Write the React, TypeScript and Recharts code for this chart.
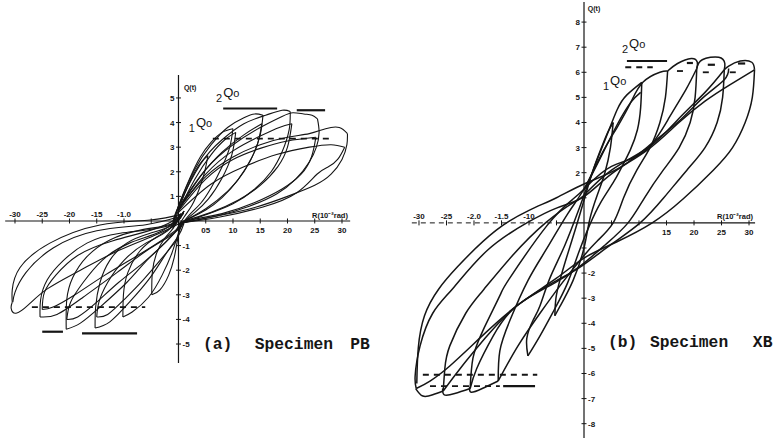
import React from "react";
import { ScatterChart, Scatter, XAxis, YAxis, ReferenceLine } from "recharts";

type Pt = [number, number];
type Seg = [number, number, number]; // x1, x2, y
type Label = { x: number; y: number; t: string };

const INK = "#151515";
const SANS = "'Liberation Sans', Arial, sans-serif";
const MONO = "'Liberation Mono', 'DejaVu Sans Mono', monospace";

// ---------- (a) Specimen PB : R in 10^-2 rad (tick units), Q in t ----------
const pbXTicks = [-30, -25, -20, -15, -10, -5, 5, 10, 15, 20, 25, 30];
const pbXTickLabels = ["-30", "-25", "-20", "-15", "-1.0", "", "05", "10", "15", "20", "25", "30"];
const pbYTicks = [5, 4, 3, 2, 1, -1, -2, -3, -4, -5];
const pbYTickLabels = ["5", "4", "3", "2", "1", "-1", "-2", "-3", "-4", "-5"];

const pbPlus05: Pt[][] = [
  [[-1, -0.3], [0, 0.45], [1.5, 1.3], [3, 2.0], [4.4, 2.45], [5.4, 2.65]],
  [[5.4, 2.65], [4.8, 2.0], [3.8, 1.3], [2.5, 0.65], [1, 0.15], [-0.5, -0.4]],
];
const pbPlus10: Pt[][] = [
  [[-1, -0.2], [0, 0.6], [2, 1.7], [4, 2.6], [6, 3.2], [8, 3.6], [10, 3.75]],
  [[10, 3.75], [9.4, 3.0], [8, 2.2], [6, 1.35], [4, 0.7], [2, 0.25], [0, -0.3]],
  [[0, 0.4], [3, 1.7], [6, 2.7], [8.5, 3.3], [10.5, 3.6]],
  [[10.5, 3.6], [9.8, 2.7], [8, 1.75], [5.5, 0.9], [3, 0.35], [0.5, -0.1]],
];
const pbPlus15: Pt[][] = [
  [[-1, -0.1], [0, 0.6], [3, 2.1], [6, 3.1], [9, 3.8], [12, 4.2], [14, 4.35], [15.5, 4.3]],
  [[15.5, 4.3], [15, 3.5], [13.5, 2.6], [11, 1.7], [8, 0.95], [5, 0.45], [2, 0.1], [0, -0.2]],
  [[0, 0.45], [4, 1.8], [8, 2.8], [12, 3.5], [15.3, 3.95]],
  [[15.3, 3.95], [14.3, 3.0], [12, 2.0], [9, 1.2], [5, 0.5], [1, 0]],
];
const pbPlus20: Pt[][] = [
  [[-1, 0], [0, 0.6], [4, 2.3], [8, 3.3], [12, 3.95], [16, 4.3], [19, 4.5], [20.5, 4.45]],
  [[20.5, 4.45], [20.3, 3.7], [19, 2.8], [17, 2.0], [14, 1.3], [10, 0.7], [5, 0.25], [0, -0.15]],
  [[0, 0.45], [5, 1.9], [10, 2.85], [15, 3.45], [18.5, 3.8], [20.8, 3.95]],
  [[20.8, 3.95], [20, 3.0], [18.2, 2.2], [15, 1.45], [11, 0.85], [6, 0.35], [1, 0]],
];
const pbPlus25: Pt[][] = [
  [[0, 0.55], [5, 2.1], [10, 3.1], [15, 3.8], [19, 4.25], [21, 4.4], [23, 4.35], [24.5, 4.3], [25.5, 4.15]],
  [[25.5, 4.15], [25.8, 3.6], [25.3, 3.0], [24, 2.4], [21.5, 1.7], [18, 1.1], [13, 0.6], [7, 0.2], [0, -0.1]],
  [[0, 0.4], [5, 1.7], [10, 2.5], [15, 2.95], [20, 3.25], [25.2, 3.4]],
  [[25.2, 3.4], [24.4, 2.6], [22.5, 1.9], [19, 1.3], [14, 0.75], [8, 0.3], [1, 0]],
];
const pbPlus30: Pt[][] = [
  [[0, 0.5], [5, 1.8], [10, 2.6], [15, 3.1], [20, 3.4], [24, 3.55], [27, 3.75], [29.5, 3.8], [31, 3.55]],
  [[31, 3.55], [30.9, 3.1], [30, 2.5], [28, 1.9], [25, 1.45], [20, 1.0], [14, 0.55], [7, 0.2], [0, -0.1]],
  [[0, 0.35], [6, 1.5], [12, 2.2], [18, 2.7], [24, 3.0], [28, 3.1], [30.5, 3.0]],
  [[30.5, 3.0], [29.2, 2.5], [27.5, 2.2], [25.4, 1.9], [21.7, 1.15], [15.5, 0.57], [7.6, 0.16], [0, -0.1]],
];
const pbMinus05: Pt[][] = [
  [[1, 0.4], [-1, -0.3], [-2.5, -0.7], [-4, -1.3], [-4.8, -2.1], [-4.9, -3.0]],
  [[-4.9, -3.0], [-3.4, -2.8], [-1.8, -2.2], [-0.8, -1.5], [-0.2, -0.8], [0.5, 0]],
];
const pbMinus10: Pt[][] = [
  [[1, 0.4], [-1, -0.2], [-4, -0.65], [-7, -1.2], [-9.3, -2.1], [-10.1, -3.0], [-10.2, -3.9]],
  [[-10.2, -3.9], [-8.5, -3.7], [-5.5, -3.1], [-3, -2.2], [-1.2, -1.3], [0, -0.5], [1, 0]],
];
const pbMinus15: Pt[][] = [
  [[1, 0.4], [-1, -0.15], [-5.2, -0.5], [-9.5, -0.9], [-12.6, -1.6], [-14.4, -2.5], [-15.2, -3.5], [-15.3, -4.35]],
  [[-15.3, -4.35], [-12.6, -4.1], [-9, -3.3], [-5.2, -2.3], [-2.2, -1.3], [0, -0.6], [1, -0.1]],
  [[0.5, 0.3], [-2, -0.4], [-6, -0.9], [-10, -1.6], [-13, -2.5], [-14.6, -3.3], [-15, -3.9]],
  [[-15, -3.9], [-13, -3.8], [-10, -3.2], [-6.5, -2.4], [-3, -1.5], [0, -0.7]],
];
const pbMinus20: Pt[][] = [
  [[1, 0.4], [-1, -0.1], [-7, -0.37], [-12.6, -0.77], [-16.8, -1.45], [-19.4, -2.3], [-20.5, -3.2], [-20.6, -4.4]],
  [[-20.6, -4.4], [-18, -4.15], [-14.4, -3.5], [-9.5, -2.5], [-5.8, -1.6], [-2.1, -0.8], [1, 0]],
  [[0.5, 0.3], [-3, -0.4], [-9, -0.9], [-14, -1.6], [-17.5, -2.5], [-19.8, -3.3], [-20.5, -4.0]],
  [[-20.5, -4.0], [-18.5, -3.9], [-15, -3.3], [-11, -2.5], [-6.5, -1.7], [-2.5, -0.9], [0.5, -0.2]],
];
const pbMinus25: Pt[][] = [
  [[1, 0.4], [-2, -0.2], [-10.7, -0.5], [-16.8, -0.9], [-21.1, -1.6], [-24.1, -2.4], [-25.3, -3.2], [-25.4, -3.9]],
  [[-25.4, -3.9], [-22.3, -3.8], [-17.5, -3.1], [-11.3, -2.1], [-5.8, -1.2], [-1.5, -0.6], [1, -0.1]],
  [[0.5, 0.2], [-4, -0.3], [-12, -0.8], [-18.5, -1.4], [-22.5, -2.2], [-24.6, -2.9], [-25, -3.6]],
  [[-25, -3.6], [-23, -3.5], [-19, -3.0], [-13.5, -2.2], [-7.5, -1.4], [-2.5, -0.7], [0.5, -0.2]],
];
const pbMinus30: Pt[][] = [
  [[1, 0.3], [-5.2, 0.04], [-14.4, -0.16], [-23.6, -0.9], [-29.1, -1.9], [-30.5, -2.8], [-30.5, -3.3]],
  [[-30.5, -3.3], [-30.7, -3.55], [-29.8, -3.75], [-27.5, -3.4], [-24, -2.75], [-18, -2.0], [-11, -1.2], [-4, -0.55], [1, 0]],
  [[0.5, 0.2], [-6, -0.15], [-15, -0.4], [-23, -1.1], [-28, -2.1], [-30, -2.9], [-30.4, -3.3]],
];

const pbSolidMarks: Seg[] = [[8.2, 18.1, 4.57], [21.7, 26.9, 4.5], [-25, -21.2, -4.5], [-17.7, -7.6, -4.57]];
const pbDashMarks: Seg[] = [[6.3, 28.3, 3.35], [-26.9, -6.1, -3.5]];
const pbQoLabels: Label[] = [{ x: 6.9, y: 4.84, t: "2" }, { x: 1.9, y: 3.62, t: "1" }];
const pbTitle: Label[] = [{ x: 4.5, y: -5.2, t: "(a)" }, { x: 14.0, y: -5.2, t: "Specimen" }, { x: 31.5, y: -5.2, t: "PB" }];

// ---------- (b) Specimen XB ----------
const xbXTicks = [-30, -25, -20, -15, -10, -5, 5, 10, 15, 20, 25, 30];
const xbXTickLabels = ["-30", "-25", "-2.0", "-1.5", "-10", "", "", "", "15", "20", "25", "30"];
const xbYTicks = [8, 7, 6, 5, 4, 3, 2, 1, -1, -2, -3, -4, -5, -6, -7, -8];
const xbYTickLabels = ["8", "7", "6", "5", "4", "3", "2", "", "", "-2", "-3", "-4", "-5", "-6", "-7", "-8"];

const xbCycle05: Pt[][] = [
  [[-5.3, -3.7], [-5.1, -3.0], [-4.4, -2.3], [-3.2, -1.4], [-1.5, -0.2], [0, 0.9], [1.5, 2.0], [3, 2.9], [4.3, 3.6], [5.3, 4.0]],
  [[5.3, 4.0], [4.8, 3.0], [3.8, 2.0], [2.4, 1.1], [1, 0.1], [0, -1.0], [-2, -2.3], [-4.3, -3.3], [-5.3, -3.7]],
];
const xbCycle10: Pt[][] = [
  [[-10.2, -5.3], [-10.4, -4.6], [-9.3, -3.9], [-8, -3.3], [-6.2, -2.2], [-3.5, -0.9], [-1, 0.5], [0, 1.1], [2, 2.3], [4, 3.4], [6, 4.5], [7.8, 5.1], [10.5, 5.6]],
  [[10.5, 5.6], [10.3, 4.6], [9.7, 3.7], [8.4, 2.9], [6.8, 2.2], [5.3, 1.6], [3, 0.8], [1, -0.1], [-1, -1.2], [-3, -2.4], [-5.5, -3.5], [-8, -4.5], [-10.2, -5.3]],
  [[0, 1.3], [3, 2.6], [6, 3.9], [8.5, 4.8], [10.3, 5.2]],
];
const xbCycle15: Pt[][] = [
  [[-15.6, -6.3], [-15.3, -5.1], [-13.5, -3.9], [-10.2, -2.3], [-6.7, -1.0], [-3, 0.35], [0, 1.35], [3, 2.65], [6, 3.8], [8.5, 4.8], [10.7, 5.6], [13.8, 6.0], [15.2, 6.05]],
  [[15.2, 6.05], [14.8, 5.0], [13.8, 4.0], [12, 3.0], [9.6, 2.1], [7.2, 1.0], [5.3, 0], [2.5, -0.7], [0, -1.3], [-4, -2.4], [-8, -3.6], [-12, -4.9], [-15.6, -6.3]],
];
const xbCycle20: Pt[][] = [
  [[-20.7, -6.6], [-20.2, -5.4], [-18.4, -4.3], [-15.3, -2.9], [-13.5, -2.2], [-6.7, -0.1], [-2, 0.95], [0.5, 1.45], [5, 2.25], [11, 2.85], [15.5, 4.2], [18.5, 5.3], [20.5, 6.15]],
  [[20.5, 6.15], [20.2, 5.0], [19.3, 4.0], [17.3, 3.0], [14.4, 2.1], [11, 1.0], [8, 0], [4, -0.85], [0, -1.6], [-5, -2.35], [-12.2, -3.3], [-16.5, -4.5], [-19.5, -5.8], [-20.7, -6.6]],
  [[15.2, 6.05], [17, 6.35], [19.5, 6.55], [20.6, 6.4], [20.5, 6.15]],
  [[-15.6, -6.3], [-18.5, -6.6], [-20.5, -6.75], [-20.8, -6.55]],
];
const xbCycle25: Pt[][] = [
  [[-25.6, -6.7], [-25.3, -5.8], [-24.4, -4.9], [-21.5, -3.6], [-18.4, -2.7], [-13, -1.3], [-7, 0], [-2, 0.8], [0, 1.1], [5, 2.1], [12, 3.05], [17, 4.1], [22, 5.2], [25.5, 6.1]],
  [[25.5, 6.1], [25.2, 5.0], [24.2, 4.0], [22, 3.0], [18.7, 2.1], [14.5, 1.0], [10.2, 0], [5, -0.85], [-0.3, -1.7], [-5, -2.3], [-12.2, -3.3], [-18, -4.6], [-22.5, -5.8], [-25.6, -6.7]],
  [[20.5, 6.15], [21.5, 6.5], [24.5, 6.6], [25.6, 6.35], [25.5, 6.1]],
  [[-20.7, -6.6], [-23.5, -6.8], [-25.4, -6.85], [-25.7, -6.6]],
];
const xbCycle30: Pt[][] = [
  [[-30.5, -6.6], [-30.7, -6.1], [-29.8, -4.9], [-27.5, -3.6], [-23.8, -2.6], [-17.6, -1.1], [-10.4, 0], [-4.9, 0.6], [0, 1.05], [5, 1.95], [11.5, 2.9], [17, 3.95], [22, 4.85], [26.5, 5.5], [31, 6.1]],
  [[31, 6.1], [30.6, 5.0], [29.3, 4.0], [27, 3.0], [23.5, 2.1], [18, 0.95], [12.4, 0], [6, -0.75], [0, -1.4], [-5, -2.2], [-12.2, -3.3], [-19, -4.6], [-24.4, -5.7], [-28, -6.3], [-30.5, -6.6]],
  [[-30.4, -6.4], [-29, -3.7], [-23, -1.75], [-16, -0.3], [-10, 0.5], [-5, 1.0], [0, 1.55], [6.5, 2.2], [12.5, 3.2], [17.5, 4.1], [21.7, 5.0], [25.5, 5.7], [26.3, 6.15]],
  [[25.5, 6.1], [26.3, 6.25], [28.4, 6.45], [30.5, 6.4], [31, 6.1]],
  [[-25.6, -6.7], [-27.5, -6.85], [-29.3, -6.9], [-30.6, -6.6]],
];

const xbSolidMarks: Seg[] = [[7.8, 15.1, 6.45], [18.7, 19.8, 6.37], [22.5, 23.8, 6.3], [28, 29.3, 6.35], [-14.7, -8.9, -6.5]];
const xbDashMarks: Seg[] = [[7.5, 12.5, 6.2], [16.9, 18.4, 6.05], [21.6, 23.3, 6.0], [26.5, 27.8, 6.0], [-29.3, -8.5, -6.05], [-28, -15.3, -6.5]];
const xbQoLabels: Label[] = [{ x: 6.9, y: 6.77, t: "2" }, { x: 3.45, y: 5.3, t: "1" }];
const xbTitle: Label[] = [{ x: 4.36, y: -4.94, t: "(b)" }, { x: 12.0, y: -4.94, t: "Specimen" }, { x: 30.7, y: -4.94, t: "XB" }];

const pbBranches = [pbPlus05, pbPlus10, pbPlus15, pbPlus20, pbPlus25, pbPlus30, pbMinus05, pbMinus10, pbMinus15, pbMinus20, pbMinus25, pbMinus30].flat();
const xbBranches = [xbCycle05, xbCycle10, xbCycle15, xbCycle20, xbCycle25, xbCycle30].flat();

const xyOf = (pts: Pt[]) => pts.map(([x, y]) => ({ x, y }));
const hidden = () => <g />;

const tickX = (p: any) => <line x1={p.cx} x2={p.cx} y1={p.cy - 2.5} y2={p.cy + 2.5} stroke={INK} strokeWidth={1} />;
const tickY = (p: any) => <line x1={p.cx - 2.5} x2={p.cx + 2.5} y1={p.cy} y2={p.cy} stroke={INK} strokeWidth={1} />;

const textAt = (dx: number, dy: number, anchor: "start" | "middle" | "end", size: number, family: string, weight: string) =>
  (p: any) => (
    <text x={p.cx + dx} y={p.cy + dy} textAnchor={anchor} fontSize={size} fontFamily={family} fontWeight={weight} fill={INK}>
      {p.payload?.t}
    </text>
  );

const qoShape = (p: any) => (
  <text x={p.cx} y={p.cy} fontFamily={SANS} fill={INK}>
    <tspan fontSize={11}>{p.payload?.t}</tspan>
    <tspan dx={1} dy={-5} fontSize={13}>Q</tspan>
    <tspan fontSize={11}>o</tspan>
  </text>
);

interface PanelProps {
  width: number;
  xDomain: [number, number];
  yDomain: [number, number];
  branches: Pt[][];
  lineWidth: number;
  xTicks: number[];
  xTickLabels: string[];
  yTicks: number[];
  yTickLabels: string[];
  xSpan: [number, number];
  xDashEnd: number;
  ySpan: [number, number];
  solidMarks: Seg[];
  dashMarks: Seg[];
  qAt: Pt;
  rAt: Pt;
  qoLabels: Label[];
  title: Label[];
}

function Panel(p: PanelProps) {
  const xLab = p.xTicks.map((x, i) => ({ x, y: 0, t: p.xTickLabels[i] }));
  const yLab = p.yTicks.map((y, i) => ({ x: 0, y, t: p.yTickLabels[i] }));
  return (
    <ScatterChart width={p.width} height={440} margin={{ top: 0, right: 0, bottom: 0, left: 0 }}>
      <XAxis type="number" dataKey="x" domain={p.xDomain} allowDataOverflow hide />
      <YAxis type="number" dataKey="y" domain={p.yDomain} allowDataOverflow hide />

      {p.xDashEnd > p.xSpan[0] && (
        <ReferenceLine segment={[{ x: p.xSpan[0], y: 0 }, { x: p.xDashEnd, y: 0 }]} stroke={INK} strokeWidth={1} strokeDasharray="5 4" />
      )}
      <ReferenceLine segment={[{ x: Math.max(p.xDashEnd, p.xSpan[0]), y: 0 }, { x: p.xSpan[1], y: 0 }]} stroke={INK} strokeWidth={1.2} />
      <ReferenceLine segment={[{ x: 0, y: p.ySpan[0] }, { x: 0, y: p.ySpan[1] }]} stroke={INK} strokeWidth={1.2} />

      {p.solidMarks.map(([a, b, y], i) => (
        <ReferenceLine key={"s" + i} segment={[{ x: a, y }, { x: b, y }]} stroke={INK} strokeWidth={2.2} />
      ))}
      {p.dashMarks.map(([a, b, y], i) => (
        <ReferenceLine key={"d" + i} segment={[{ x: a, y }, { x: b, y }]} stroke={INK} strokeWidth={1.8} strokeDasharray="6 5" />
      ))}

      {p.branches.map((br, i) => (
        <Scatter
          key={"b" + i}
          data={xyOf(br)}
          line={{ stroke: INK, strokeWidth: p.lineWidth }}
          lineJointType="natural"
          shape={hidden}
          isAnimationActive={false}
        />
      ))}

      <Scatter data={xLab} shape={tickX} isAnimationActive={false} />
      <Scatter data={yLab} shape={tickY} isAnimationActive={false} />
      <Scatter data={xLab.filter((d) => d.x < 0)} shape={textAt(0, -4, "middle", 8, SANS, "bold")} isAnimationActive={false} />
      <Scatter data={xLab.filter((d) => d.x > 0)} shape={textAt(0, 12, "middle", 8, SANS, "bold")} isAnimationActive={false} />
      <Scatter data={yLab.filter((d) => d.y > 0)} shape={textAt(-4, 3, "end", 8, SANS, "bold")} isAnimationActive={false} />
      <Scatter data={yLab.filter((d) => d.y < 0)} shape={textAt(4, 3, "start", 8, SANS, "bold")} isAnimationActive={false} />

      <Scatter data={[{ x: p.qAt[0], y: p.qAt[1], t: "Q(t)" }]} shape={textAt(0, 0, "start", 7, SANS, "bold")} isAnimationActive={false} />
      <Scatter data={[{ x: p.rAt[0], y: p.rAt[1], t: "R(10⁻²rad)" }]} shape={textAt(0, 0, "start", 7.5, SANS, "bold")} isAnimationActive={false} />
      <Scatter data={p.qoLabels} shape={qoShape} isAnimationActive={false} />
      <Scatter data={p.title} shape={textAt(0, 0, "start", 16.3, MONO, "bold")} isAnimationActive={false} />
    </ScatterChart>
  );
}

export default function App() {
  return (
    <div style={{ position: "absolute", left: 0, top: 0, width: 779, height: 440, background: "#fff", display: "flex" }}>
      <Panel
        width={390}
        xDomain={[-32.75, 38.81]}
        yDomain={[-8.9, 8.98]}
        branches={pbBranches}
        lineWidth={1.1}
        xTicks={pbXTicks}
        xTickLabels={pbXTickLabels}
        yTicks={pbYTicks}
        yTickLabels={pbYTickLabels}
        xSpan={[-31.8, 31.5]}
        xDashEnd={-31.8}
        ySpan={[-5.77, 5.93]}
        solidMarks={pbSolidMarks}
        dashMarks={pbDashMarks}
        qAt={[1.0, 5.33]}
        rAt={[24.5, 0.12]}
        qoLabels={pbQoLabels}
        title={pbTitle}
      />
      <Panel
        width={389}
        xDomain={[-35.27, 35.45]}
        yDomain={[-8.65, 8.88]}
        branches={xbBranches}
        lineWidth={1.5}
        xTicks={xbXTicks}
        xTickLabels={xbXTickLabels}
        yTicks={xbYTicks}
        yTickLabels={xbYTickLabels}
        xSpan={[-31.3, 31.1]}
        xDashEnd={-5}
        ySpan={[-8.57, 8.8]}
        solidMarks={xbSolidMarks}
        dashMarks={xbDashMarks}
        qAt={[0.7, 8.45]}
        rAt={[24.2, 0.16]}
        qoLabels={xbQoLabels}
        title={xbTitle}
      />
    </div>
  );
}
